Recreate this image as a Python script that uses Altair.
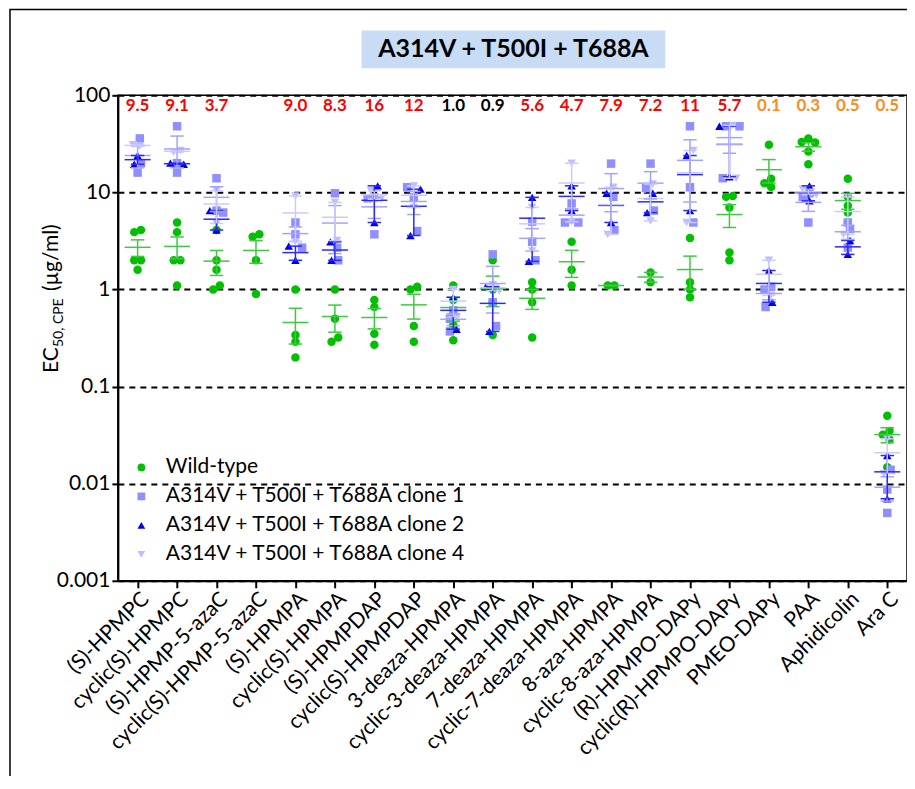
import math
import pandas as pd
import altair as alt

# ---------------- data ----------------
categories = [
    "(S)-HPMPC", "cyclic(S)-HPMPC", "(S)-HPMP-5-azaC", "cyclic(S)-HPMP-5-azaC",
    "(S)-HPMPA", "cyclic(S)-HPMPA", "(S)-HPMPDAP", "cyclic(S)-HPMPDAP",
    "3-deaza-HPMPA", "cyclic-3-deaza-HPMPA", "7-deaza-HPMPA", "cyclic-7-deaza-HPMPA",
    "8-aza-HPMPA", "cyclic-8-aza-HPMPA", "(R)-HPMPO-DAPy", "cyclic(R)-HPMPO-DAPy",
    "PMEO-DAPy", "PAA", "Aphidicolin", "Ara C",
]
fold_labels = ["9.5", "9.1", "3.7", "", "9.0", "8.3", "16", "12", "1.0", "0.9",
               "5.6", "4.7", "7.9", "7.2", "11", "5.7", "0.1", "0.3", "0.5", "0.5"]

wild_type = [
    [4.1, 3.9, 2.0, 2.0, 1.6],
    [4.9, 3.9, 2.0, 2.0, 1.1],
    [4.1, 2.0, 1.6, 1.1, 1.0],
    [3.7, 3.5, 2.0, 0.9],
    [1.0, 0.34, 0.29, 0.20],
    [1.0, 0.50, 0.32, 0.29],
    [0.78, 0.66, 0.35, 0.27],
    [1.07, 1.0, 0.42, 0.29],
    [1.1, 0.78, 0.43, 0.30],
    [2.0, 1.0, 0.74, 0.34],
    [1.19, 1.0, 0.74, 0.32],
    [3.1, 1.6, 1.1],
    [1.1, 1.1],
    [1.5, 1.19],
    [3.4, 1.19, 1.0, 0.83],
    [9.2, 9.0, 7.0, 2.4, 2.0],
    [31.0, 13.8, 12.4, 11.4],
    [36.0, 33.0, 32.7, 26.4, 19.5],
    [13.8, 9.0, 7.3, 6.2, 4.9],
    [0.050, 0.035, 0.032, 0.0285, 0.0148],
]
clone1 = [
    [36, 20, 16], [48, 20, 16], [14, 6.5, 6.2], [],
    [4.9, 3.7, 2.7], [9.8, 2.7, 2.0], [8.9, 8.7, 3.7], [11.3, 8.9, 4.0],
    [0.61, 0.50, 0.37], [2.3, 0.74, 0.42], [5.0, 3.1, 2.0], [7.7, 4.9, 4.9],
    [19.8, 9.0, 4.1], [19.8, 11.1, 6.5], [48, 11.3, 4.9], [48, 48, 14],
    [1.07, 1.0, 0.66], [9.8, 9.0, 4.9], [4.9, 4.2, 2.7], [0.0139, 0.0087, 0.005],
]
clone2 = [
    [24, 19.5], [20, 19.5], [6.5, 4.1], [],
    [2.8, 2.0], [3.1, 2.0], [11.7, 4.9], [10.8, 3.6],
    [0.83, 0.39], [1.07, 0.37], [8.9, 1.95], [11.7, 6.5],
    [9.8, 4.9], [9.8, 6.2], [24, 6.5], [48, 14.5],
    [1.57, 0.74], [11.7, 8.2], [3.2, 2.3], [0.0195, 0.007],
]
clone4 = [
    [31, 30], [27, 26], [10.4, 4.8], [],
    [9.2, 3.1], [7.9, 3.2], [10.4, 8.5], [11.7, 7.0],
    [1.0, 0.52], [1.12, 0.97], [7.0, 2.5], [20, 5.0],
    [11.3, 3.7], [12.2, 5.1], [27, 4.9], [49, 14],
    [2.0, 0.87], [10.8, 9.5], [9.0, 3.7], [0.029, 0.0127],
]

series_names = [
    "Wild-type",
    "A314V + T500I + T688A clone 1",
    "A314V + T500I + T688A clone 2",
    "A314V + T500I + T688A clone 4",
]
marker_colors = ["#00C000", "#8F8FFF", "#0000F0", "#BDBDFF"]
bar_colors = ["#40C840", "#A3A3FF", "#2A2AFF", "#CACAFF"]
shapes = ["circle", "square", "triangle-up", "triangle-down"]

# ---------------- layout helpers ----------------
W, H = 790, 486
BAND = W / len(categories)
PX_PER_DECADE = H / 5.0


def swarm(vals, D=6.5, step=6.7):
    """Prism-like column scatter offsets (pixels) for one column."""
    ys = [math.log10(v) * PX_PER_DECADE for v in vals]
    order = sorted(range(len(vals)), key=lambda i: -ys[i])
    placed, offs = [], [0.0] * len(vals)
    for i in order:
        k = 0
        chosen = None
        while chosen is None:
            cands = [0.0] if k == 0 else [-k * step, k * step]
            for c in cands:
                if all((c - o) ** 2 + (ys[i] - y) ** 2 >= D * D for y, o in placed):
                    chosen = c
                    break
            k += 1
        offs[i] = chosen
        placed.append((ys[i], chosen))
    comp = [[order[0]]] if order else []
    for a, b in zip(order, order[1:]):
        if ys[a] - ys[b] < D:
            comp[-1].append(b)
        else:
            comp.append([b])
    for c in comp:
        m = sum(offs[j] for j in c) / len(c)
        for j in c:
            offs[j] -= m
    return offs


rows = []
all_series = [wild_type, clone1, clone2, clone4]
for ci in range(len(categories)):
    wt = wild_type[ci]
    for v, o in zip(wt, swarm(wt)):
        rows.append({"idx": ci, "series": series_names[0], "value": v, "xpos": ci + o / BAND})
    mv, ms = [], []
    for s in (1, 2, 3):
        for v in all_series[s][ci]:
            mv.append(v)
            ms.append(series_names[s])
    if mv:
        for v, s, o in zip(mv, ms, swarm(mv)):
            rows.append({"idx": ci, "series": s, "value": v, "xpos": ci + o / BAND})
df = pd.DataFrame(rows)


def fold_color(t):
    f = float(t)
    if f >= 2:
        return "#FF0000"
    if f <= 0.5:
        return "#FF8C1A"
    return "#000000"


fold_df = pd.DataFrame([
    {"idx": i, "label": t, "fc": fold_color(t)}
    for i, t in enumerate(fold_labels) if t
])

# ---------------- scales / axes ----------------
FONT = "Lato"
label_expr = "[" + ",".join("'%s'" % c for c in categories) + "][datum.value]"
xscale = alt.Scale(domain=[-0.5, len(categories) - 0.5], nice=False, zero=False)
yscale = alt.Scale(type="log", domain=[0.001, 100], nice=False)
xaxis = alt.Axis(values=list(range(len(categories))), labelExpr=label_expr, labelAngle=-45,
                 labelFontSize=21, labelFont=FONT, labelColor="black", tickSize=7, tickWidth=2,
                 tickColor="black", domainWidth=2, domainColor="black", grid=False, title=None,
                 labelOverlap=False, labelFlush=False, labelPadding=0, labelLimit=0,
                 labelAlign="right", labelBaseline="top")
yaxis = alt.Axis(values=[0.001, 0.01, 0.1, 1, 10, 100], format="~g", grid=True,
                 gridDash=[6, 5], gridColor="black", gridWidth=2, gridOpacity=1,
                 labelFontSize=21, labelFont=FONT, labelColor="black", tickSize=6,
                 tickWidth=2, tickColor="black", domainWidth=2, domainColor="black",
                 title=None, labelFlush=False, labelOverlap=False, labelPadding=2)

one = pd.DataFrame({"a": [0]})

frame = alt.Chart(one).mark_rect(fillOpacity=0, stroke="black", strokeWidth=1.5).encode(
    x=alt.value(-108), x2=alt.value(1200), y=alt.value(-86), y2=alt.value(1200))
title_bg = alt.Chart(one).mark_rect(fill="#C9DCF6").encode(
    x=alt.value(244), x2=alt.value(548), y=alt.value(-65), y2=alt.value(-27))
title_txt = alt.Chart(one).mark_text(text="A314V + T500I + T688A", font=FONT, fontSize=25,
                                     fontWeight="bold", color="black", align="center",
                                     baseline="middle").encode(
    x=alt.value(396), y=alt.value(-46))

yt1 = alt.Chart(one).mark_text(text="EC", font=FONT, fontSize=21, angle=270, align="left",
                               baseline="alphabetic", color="black").encode(
    x=alt.value(-60), y=alt.value(278))
yt2 = alt.Chart(one).mark_text(text="50, CPE", font=FONT, fontSize=14, angle=270, align="left",
                               baseline="alphabetic", color="black").encode(
    x=alt.value(-55), y=alt.value(252))
yt3 = alt.Chart(one).mark_text(text="(\u00b5g/ml)", font=FONT, fontSize=21, angle=270,
                               align="left", baseline="alphabetic", color="black").encode(
    x=alt.value(-60), y=alt.value(196))

folds = alt.Chart(fold_df).mark_text(font=FONT, fontSize=17, fontWeight="bold",
                                     baseline="middle", align="center").encode(
    x=alt.X("idx:Q", scale=xscale, axis=xaxis),
    y=alt.value(11),
    text="label:N",
    color=alt.Color("fc:N", scale=None),
)

base = alt.Chart(df)
agg = base.transform_aggregate(
    m="mean(value)", se="stderr(value)", groupby=["idx", "series"]
).transform_calculate(
    lo="datum.m - datum.se", hi="datum.m + datum.se",
    ml="datum.idx - 0.33", mr="datum.idx + 0.33",
    cl="datum.idx - 0.17", cr="datum.idx + 0.17",
)
stroke_enc = alt.Stroke("series:N", scale=alt.Scale(domain=series_names, range=bar_colors),
                        legend=None)
mean_line = agg.mark_rule(strokeWidth=1.5).encode(
    x=alt.X("ml:Q", scale=xscale, axis=xaxis), x2="mr:Q",
    y=alt.Y("m:Q", scale=yscale, axis=yaxis), stroke=stroke_enc)
cap_hi = agg.mark_rule(strokeWidth=1.5).encode(
    x=alt.X("cl:Q", scale=xscale, axis=xaxis), x2="cr:Q",
    y=alt.Y("hi:Q", scale=yscale, axis=yaxis), stroke=stroke_enc)
cap_lo = agg.mark_rule(strokeWidth=1.5).encode(
    x=alt.X("cl:Q", scale=xscale, axis=xaxis), x2="cr:Q",
    y=alt.Y("lo:Q", scale=yscale, axis=yaxis), stroke=stroke_enc)
vbar = agg.mark_rule(strokeWidth=1.5).encode(
    x=alt.X("idx:Q", scale=xscale, axis=xaxis),
    y=alt.Y("lo:Q", scale=yscale, axis=yaxis), y2="hi:Q", stroke=stroke_enc)

legend = alt.Legend(title=None, orient="none", legendX=13, legendY=362, labelFontSize=21,
                    labelFont=FONT, labelColor="black", symbolSize=60, rowPadding=7,
                    labelOffset=14, padding=0, symbolStrokeWidth=0, labelLimit=0)
points = base.mark_point(filled=True, opacity=1, size=72, strokeWidth=0).encode(
    x=alt.X("xpos:Q", scale=xscale, axis=xaxis),
    y=alt.Y("value:Q", scale=yscale, axis=yaxis),
    color=alt.Color("series:N", scale=alt.Scale(domain=series_names, range=marker_colors),
                    legend=legend),
    shape=alt.Shape("series:N", scale=alt.Scale(domain=series_names, range=shapes),
                    legend=legend),
)

chart = alt.layer(
    frame, title_bg, title_txt, yt1, yt2, yt3, folds,
    points, mean_line, cap_hi, cap_lo, vbar,
).properties(
    width=W, height=H,
    autosize=alt.AutoSizeParams(type="none"),
    padding={"left": 110, "top": 87, "right": 0, "bottom": 195},
    background="white",
).configure_view(stroke="black", strokeWidth=1.5)

chart.save("out.html", embed_options={"renderer": "svg", "actions": False})
